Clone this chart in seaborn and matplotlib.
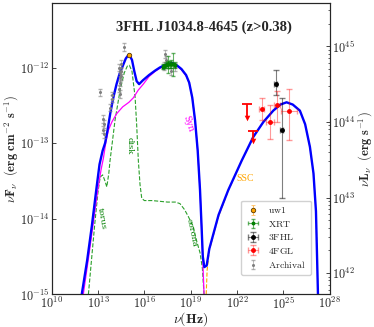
import numpy as np
import pandas as pd
import matplotlib
matplotlib.use("Agg")
import matplotlib.pyplot as plt
import matplotlib.ticker as mticker
import seaborn as sns

# ---- data (log10 nu [Hz], log10 nuFnu [erg cm-2 s-1]) ----
total_lognu = [11.95, 12.3, 12.6, 12.9, 13.1, 13.3, 13.46, 13.6, 13.8, 14.0, 14.2, 14.4,
               14.6, 14.8, 14.95, 15.05, 15.2, 15.35, 15.5, 15.66, 15.9, 16.3, 16.7, 17.0,
               17.4, 17.8, 18.1, 18.4, 18.7, 18.9, 19.1, 19.28, 19.45, 19.6, 19.7, 19.78,
               19.88, 20.03, 20.2, 20.8, 21.43, 22.3, 23.04, 23.7, 24.34, 24.8, 25.2, 25.6,
               26.06, 26.4, 26.71, 26.94, 27.1, 27.23]
total_logf = [-15.0, -14.55, -14.1, -13.6, -13.28, -13.1, -13.0, -12.85, -12.6, -12.39, -12.22,
              -12.08, -11.98, -11.88, -11.84, -11.84, -11.9, -12.05, -12.18, -12.22, -12.17,
              -12.1, -12.04, -12.0, -11.96, -11.94, -11.97, -12.02, -12.1, -12.2, -12.4, -12.7,
              -13.1, -13.62, -14.1, -14.5, -14.64, -14.62, -14.4, -13.95, -13.62, -13.23, -12.92,
              -12.72, -12.57, -12.49, -12.46, -12.49, -12.57, -12.75, -13.05, -13.4, -13.9, -15.0]

syn_lognu = [12.05, 12.4, 12.7, 13.0, 13.2, 13.35, 13.5, 13.67, 13.9, 14.21, 14.6, 15.0,
             15.29, 15.6, 15.93, 16.3, 16.7, 17.0, 17.4, 17.8, 18.1, 18.4, 18.7, 18.9, 19.1,
             19.28, 19.45, 19.6, 19.7, 19.78, 19.86]
syn_logf = [-15.0, -14.5, -14.05, -13.6, -13.35, -13.2, -13.0, -12.83, -12.72, -12.61, -12.52,
            -12.46, -12.4, -12.3, -12.22, -12.12, -12.05, -12.01, -11.97, -11.95, -11.98,
            -12.03, -12.11, -12.2, -12.4, -12.7, -13.1, -13.62, -14.1, -14.55, -15.0]

thermal_lognu = [12.38, 12.6, 12.8, 13.0, 13.14, 13.3, 13.45, 13.57, 13.7, 13.78, 13.89, 14.1,
                 14.43, 14.7, 14.9, 15.03, 15.2, 15.4, 15.5, 15.61, 15.72, 15.83, 16.0, 16.5,
                 17.0, 17.5, 18.0, 18.3, 18.6, 18.84, 19.17, 19.39, 19.6, 19.75, 19.86]
thermal_logf = [-15.0, -14.5, -14.05, -13.65, -13.45, -13.42, -13.5, -13.58, -13.4, -13.23,
                -13.05, -12.7, -12.3, -12.07, -11.98, -11.97, -12.05, -12.39, -12.75, -13.23,
                -13.55, -13.73, -13.76, -13.76, -13.77, -13.78, -13.78, -13.8, -13.88, -13.97,
                -14.11, -14.3, -14.45, -14.65, -15.0]

ssc_lognu = [20.0, 20.06, 20.2, 20.8, 21.43, 22.3, 23.04, 23.7, 24.34, 24.8, 25.2, 25.6,
             26.06, 26.4, 26.71, 26.94, 27.1, 27.23]
ssc_logf = [-15.0, -14.68, -14.42, -13.97, -13.63, -13.23, -12.92, -12.72, -12.57, -12.49,
            -12.46, -12.49, -12.57, -12.75, -13.05, -13.4, -13.9, -15.0]

uw1_lognu = [15.03]
uw1_logf = [-11.84]

xrt_lognu = [17.2, 17.3, 17.4, 17.5, 17.54, 17.65, 17.75, 17.87, 17.95]
xrt_logf = [-11.99, -11.98, -11.97, -11.96, -11.96, -11.96, -11.95, -11.96, -11.97]
xrt_yerr = [0.03, 0.03, 0.04, 0.04, 0.11, 0.04, 0.05, 0.15, 0.04]
xrt_xerr = [0.05, 0.05, 0.05, 0.05, 0.05, 0.05, 0.05, 0.05, 0.05]

fhl_lognu = [24.51, 24.88]
fhl_logf = [-12.22, -12.83]
fhl_yerr_up = [0.19, 0.43]
fhl_yerr_lo = [0.15, 0.89]
fhl_xerr = [0.1, 0.1]

fgl_lognu = [23.59, 24.13, 24.6, 25.37]
fgl_logf = [-12.55, -12.72, -12.49, -12.58]
fgl_yerr_up = [0.15, 0.22, 0.18, 0.30]
fgl_yerr_lo = [0.15, 0.22, 0.23, 0.38]
fgl_xerr = [0.18, 0.26, 0.2, 0.5]
fgl_ul_lognu = [22.62, 23.04]
fgl_ul_logf = [-12.48, -12.84]
fgl_ul_len = [0.19, 0.13]

arch_lognu = [13.14, 13.35, 13.36, 13.35, 13.37, 13.78, 13.89, 13.9, 14.38, 14.4, 14.42,
              14.41, 14.39, 14.43, 14.47, 14.49, 14.48, 14.69, 17.3, 17.36, 17.42, 17.7, 17.98]
arch_logf = [-12.33, -12.68, -12.75, -12.82, -12.88, -12.53, -12.37, -12.41, -12.0, -12.06,
             -12.13, -12.2, -12.28, -12.35, -11.95, -12.04, -12.11, -11.73, -11.98, -11.82,
             -11.9, -12.05, -11.99]
arch_err = 0.05

xtick_exp = [10, 13, 16, 19, 22, 25, 28]
ytick_exp = [-15, -14, -13, -12]
y2tick_exp = [42, 43, 44, 45]
lum_offset = 56.72   # log10(4 pi d_L^2)

# ---- style ----
sns.set_style("ticks")
plt.rcParams["font.family"] = ["DejaVu Serif"]
plt.rcParams["mathtext.fontset"] = "cm"
plt.rcParams["xtick.direction"] = "in"
plt.rcParams["ytick.direction"] = "in"


def lin(v):
    return np.power(10.0, np.asarray(v, dtype=float))


def asym(logf, lo, up):
    f = lin(logf)
    return [f * (1 - 10 ** -np.asarray(lo)), f * (10 ** np.asarray(up) - 1)]


def xasym(lognu, e):
    nu = lin(lognu)
    e = np.asarray(e)
    return [nu * (1 - 10 ** -e), nu * (10 ** e - 1)]


fig = plt.figure(figsize=(3.74, 3.27), dpi=100)
ax = fig.add_axes([0.138, 0.1, 0.744, 0.89])

curves = pd.concat([
    pd.DataFrame({"nu": lin(thermal_lognu), "F": lin(thermal_logf), "comp": "thermal"}),
    pd.DataFrame({"nu": lin(ssc_lognu), "F": lin(ssc_logf), "comp": "ssc"}),
    pd.DataFrame({"nu": lin(syn_lognu), "F": lin(syn_logf), "comp": "syn"}),
])
sns.lineplot(data=curves[curves.comp == "thermal"], x="nu", y="F", color="#2ca02c",
             lw=0.8, ls="--", ax=ax, sort=False)
sns.lineplot(data=curves[curves.comp == "ssc"], x="nu", y="F", color="#ffa500",
             lw=0.8, ls="--", ax=ax, sort=False)
sns.lineplot(data=curves[curves.comp == "syn"], x="nu", y="F", color="magenta",
             lw=0.9, ax=ax, sort=False)
sns.lineplot(x=lin(total_lognu), y=lin(total_logf), color="blue", lw=1.7, ax=ax, sort=False)

# data points
h_uw1 = ax.errorbar(lin(uw1_lognu), lin(uw1_logf), yerr=lin(uw1_logf) * 0.03, fmt="o",
                    ms=3.2, mfc="#ffa500", mec="#5a3a00", mew=0.6, ecolor="#ffc060",
                    capsize=1.5, elinewidth=0.8, zorder=6)
h_xrt = ax.errorbar(lin(xrt_lognu), lin(xrt_logf), yerr=asym(xrt_logf, xrt_yerr, xrt_yerr),
                    xerr=xasym(xrt_lognu, xrt_xerr), fmt="o", ms=1.8, color="green",
                    ecolor=(0, 0.5, 0, 0.6), elinewidth=0.8, capsize=1.5, zorder=5)
h_fhl = ax.errorbar(lin(fhl_lognu), lin(fhl_logf), yerr=asym(fhl_logf, fhl_yerr_lo, fhl_yerr_up),
                    xerr=xasym(fhl_lognu, fhl_xerr), fmt="o", ms=2.5, color="black",
                    ecolor=(0, 0, 0, 0.5), elinewidth=0.8, capsize=2, zorder=5)
h_fgl = ax.errorbar(lin(fgl_lognu), lin(fgl_logf), yerr=asym(fgl_logf, fgl_yerr_lo, fgl_yerr_up),
                    xerr=xasym(fgl_lognu, fgl_xerr), fmt="o", ms=2.5, color="red",
                    ecolor=(1, 0, 0, 0.4), elinewidth=0.8, capsize=2, zorder=5)
# 4FGL upper limits: cap on top, line down, arrow head at the bottom
ul_f = lin(fgl_ul_logf)
ul_low = ul_f * 10 ** -np.asarray(fgl_ul_len)
ax.errorbar(lin(fgl_ul_lognu), ul_f, yerr=[ul_f - ul_low, ul_f * 0], fmt="none",
            ecolor="red", elinewidth=1.3, capsize=0, zorder=5)
ax.scatter(lin(fgl_ul_lognu), ul_f, marker="_", s=45, color="red", linewidths=1.3, zorder=5)
ax.scatter(lin(fgl_ul_lognu), ul_low, marker="v", s=16, color="red", linewidths=0, zorder=5)
h_arch = ax.errorbar(lin(arch_lognu), lin(arch_logf), yerr=asym(arch_logf, [arch_err] * len(arch_logf),
                     [arch_err] * len(arch_logf)), fmt="o", ms=1.2, color="gray",
                     ecolor=(0.5, 0.5, 0.5, 0.6), elinewidth=0.6, capsize=1.5, zorder=4)

# component labels
ax.text(lin(13.25), lin(-14.0), "torus", color="green", fontsize=6, rotation=-80,
        ha="center", va="center")
ax.text(lin(15.07), lin(-13.03), "disk", color="green", fontsize=6, rotation=-90,
        ha="center", va="center")
ax.text(lin(19.06), lin(-14.19), "corona", color="green", fontsize=6, rotation=-78,
        ha="center", va="center")
ax.text(lin(18.82), lin(-12.74), "Syn", color="magenta", fontsize=6.5, rotation=-72,
        ha="center", va="center")
ax.text(lin(22.51), lin(-13.47), "SSC", color="#ffa500", fontsize=7,
        ha="center", va="center", family="Liberation Serif")

ax.text(0.548, 0.918, "3FHL J1034.8-4645 (z>0.38)", transform=ax.transAxes,
        ha="center", va="center", fontsize=10.5, fontweight="bold", family="Liberation Serif")

ax.set_xscale("log")
ax.set_yscale("log")
ax.set_xlim(lin(10), lin(28))
ax.set_ylim(lin(-15), lin(-11.15))
ax.set_xticks(lin(xtick_exp))
ax.set_xticklabels([r"$\mathbf{10^{%d}}$" % e for e in xtick_exp], fontsize=8.8)
ax.set_yticks(lin(ytick_exp))
ax.set_yticklabels([r"$\mathbf{10^{%d}}$" % e for e in ytick_exp], fontsize=8.8)
ax.xaxis.set_minor_locator(mticker.NullLocator())
ax.yaxis.set_minor_locator(mticker.NullLocator())
ax.tick_params(length=3, width=0.6, pad=1.5)
ax.set_xlabel(r"$\mathbf{\nu(Hz)}$", fontsize=10)
ax.xaxis.set_label_coords(0.5, -0.055)
ax.set_ylabel(r"$\mathbf{\nu F_{\nu}\ \ (erg\ cm^{-2}\ s^{-1})}$", fontsize=9, labelpad=0)

ax2 = ax.twinx()
ax2.set_yscale("log")
ax2.set_ylim(lin(-15 + lum_offset), lin(-11.15 + lum_offset))
ax2.set_yticks(lin(y2tick_exp))
ax2.set_yticklabels([r"$\mathbf{10^{%d}}$" % e for e in y2tick_exp], fontsize=8.8)
ax2.yaxis.set_minor_locator(mticker.LogLocator(base=10, subs=np.arange(2, 10)))
ax2.yaxis.set_minor_formatter(mticker.NullFormatter())
ax2.tick_params(which="major", length=3, width=0.6, pad=1.5)
ax2.tick_params(which="minor", length=1.5, width=0.5)
ax2.set_ylabel(r"$\mathbf{\nu L_{\nu}\ \ (erg\ s^{-1})}$", fontsize=9, labelpad=1)

for a in (ax, ax2):
    for s in a.spines.values():
        s.set_linewidth(0.8)

ax.legend([h_uw1, h_xrt, h_fhl, h_fgl, h_arch],
          [r"$\mathrm{uw1}$", r"$\mathrm{XRT}$", r"$\mathrm{3FHL}$", r"$\mathrm{4FGL}$",
           r"$\mathrm{Archival}$"],
          loc="lower right", bbox_to_anchor=(0.95, 0.05), fontsize=7, frameon=True,
          fancybox=True, edgecolor="#cccccc", framealpha=0.9, handlelength=1.4,
          labelspacing=0.35, borderpad=0.5, handletextpad=0.9)

fig.savefig("out.png", dpi=100)
